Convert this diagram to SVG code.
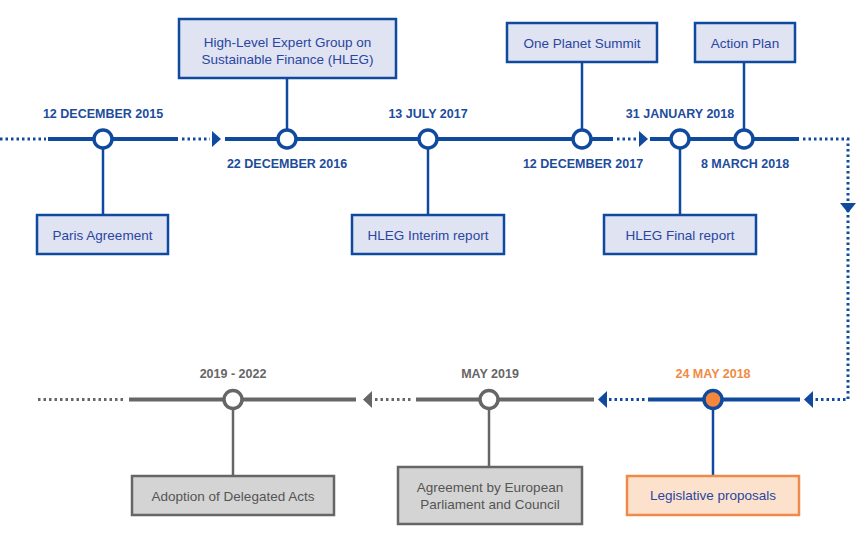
<svg xmlns="http://www.w3.org/2000/svg" width="857" height="540" viewBox="0 0 857 540">
<style>
text{font-family:"Liberation Sans",Arial,sans-serif}
.date{font-size:12.5px;font-weight:bold;fill:#1d4c9c;text-anchor:middle}
.gdate{font-size:12.5px;font-weight:bold;fill:#666;text-anchor:middle}
.odate{font-size:12.5px;font-weight:bold;fill:#f08a45;text-anchor:middle}
.bl{font-size:13.5px;fill:#2a46a0;text-anchor:middle}
.gl{font-size:13.5px;fill:#555;text-anchor:middle}
.box{fill:#dfe3f2;stroke:#0f4a9e;stroke-width:2.5}
.gbox{fill:#d4d4d4;stroke:#666;stroke-width:2.5}
.obox{fill:#fce2cc;stroke:#ef8a4a;stroke-width:2.5}
.solid{stroke:#0f4a9e;stroke-width:4;fill:none}
.gsolid{stroke:#666;stroke-width:4;fill:none}
.dot{stroke:#0f4a9e;stroke-width:3;stroke-dasharray:2.5 3;fill:none}
.gdot{stroke:#666;stroke-width:3;stroke-dasharray:2.5 3;fill:none}
.con{stroke:#0f4a9e;stroke-width:2.5}
.gcon{stroke:#666;stroke-width:2.5}
.ring{fill:#fff;stroke:#0f4a9e;stroke-width:3.5}
.gring{fill:#fff;stroke:#666;stroke-width:3.5}
.arr{fill:#0f4a9e}
.garr{fill:#666}
</style>
<g id="connectors">
  <path class="dot" d="M0 139H46"/>
  <path class="solid" d="M48 139H178"/>
  <path class="dot" d="M182 139H210"/>
  <polygon class="arr" points="212,131 221,139 212,147"/>
  <path class="solid" d="M225 139H613"/>
  <path class="dot" d="M617 139H638"/>
  <polygon class="arr" points="639,131 648,139 639,147"/>
  <path class="solid" d="M650 139H799"/>
  <path class="dot" d="M803 139H848V399.5H815"/>
  <polygon class="arr" points="840,203 856,203 848,213"/>
  <polygon class="arr" points="813,391 813,408 804,399.5"/>
  <path class="solid" d="M648 399.5H800"/>
  <path class="dot" d="M609 399.5H645"/>
  <polygon class="arr" points="607,391 607,408 598,399.5"/>
  <path class="gsolid" d="M416 399.5H594"/>
  <path class="gdot" d="M375 399.5H411"/>
  <polygon class="garr" points="372,391 372,408 363,399.5"/>
  <path class="gsolid" d="M129 399.5H356"/>
  <path class="gdot" d="M38 399.5H125"/>
  <line class="con" x1="103" y1="139" x2="103" y2="215"/>
  <line class="con" x1="287" y1="78" x2="287" y2="139"/>
  <line class="con" x1="428" y1="139" x2="428" y2="215"/>
  <line class="con" x1="582" y1="62" x2="582" y2="139"/>
  <line class="con" x1="680" y1="139" x2="680" y2="215"/>
  <line class="con" x1="744" y1="62" x2="744" y2="139"/>
  <line class="gcon" x1="233" y1="399.5" x2="233" y2="476"/>
  <line class="gcon" x1="489" y1="399.5" x2="489" y2="467"/>
  <line class="con" x1="713" y1="399.5" x2="713" y2="476"/>
</g>
<g id="n-2015">
  <circle class="ring" cx="103" cy="139" r="9"/>
  <text class="date" x="103" y="118">12 DECEMBER 2015</text>
  <rect class="box" x="37" y="215" width="131" height="39"/>
  <text class="bl" x="102.5" y="240">Paris Agreement</text>
</g>
<g id="n-2016">
  <circle class="ring" cx="287" cy="139" r="9"/>
  <text class="date" x="287" y="168">22 DECEMBER 2016</text>
  <rect class="box" x="179" y="19" width="217" height="59"/>
  <text class="bl" x="287.5" y="47">High-Level Expert Group on</text>
  <text class="bl" x="287.5" y="64">Sustainable Finance (HLEG)</text>
</g>
<g id="n-2017-07">
  <circle class="ring" cx="428" cy="139" r="9"/>
  <text class="date" x="428" y="118">13 JULY 2017</text>
  <rect class="box" x="352" y="215" width="152" height="39"/>
  <text class="bl" x="428" y="240">HLEG Interim report</text>
</g>
<g id="n-2017-12">
  <circle class="ring" cx="582" cy="139" r="9"/>
  <text class="date" x="583" y="168">12 DECEMBER 2017</text>
  <rect class="box" x="507" y="23" width="150" height="39"/>
  <text class="bl" x="582" y="48">One Planet Summit</text>
</g>
<g id="n-2018-01">
  <circle class="ring" cx="680" cy="139" r="9"/>
  <text class="date" x="680" y="118">31 JANUARY 2018</text>
  <rect class="box" x="604" y="215" width="152" height="39"/>
  <text class="bl" x="680" y="240">HLEG Final report</text>
</g>
<g id="n-2018-03">
  <circle class="ring" cx="744" cy="139" r="9"/>
  <text class="date" x="745" y="168">8 MARCH 2018</text>
  <rect class="box" x="695" y="23" width="100" height="39"/>
  <text class="bl" x="745" y="48">Action Plan</text>
</g>
<g id="n-2018-05">
  <circle cx="713" cy="399.5" r="9" fill="#f5873c" stroke="#0f4a9e" stroke-width="3.5"/>
  <text class="odate" x="713" y="378">24 MAY 2018</text>
  <rect class="obox" x="627" y="476" width="172" height="39"/>
  <text class="bl" x="713" y="500">Legislative proposals</text>
</g>
<g id="n-2019">
  <circle class="gring" cx="489" cy="399.5" r="9"/>
  <text class="gdate" x="490" y="378">MAY 2019</text>
  <rect class="gbox" x="398" y="467" width="184" height="57"/>
  <text class="gl" x="490" y="492">Agreement by European</text>
  <text class="gl" x="490" y="509">Parliament and Council</text>
</g>
<g id="n-2019-2022">
  <circle class="gring" cx="233" cy="399.5" r="9"/>
  <text class="gdate" x="233" y="378">2019 - 2022</text>
  <rect class="gbox" x="132" y="476" width="202" height="39"/>
  <text class="gl" x="233" y="501">Adoption of Delegated Acts</text>
</g>
</svg>
